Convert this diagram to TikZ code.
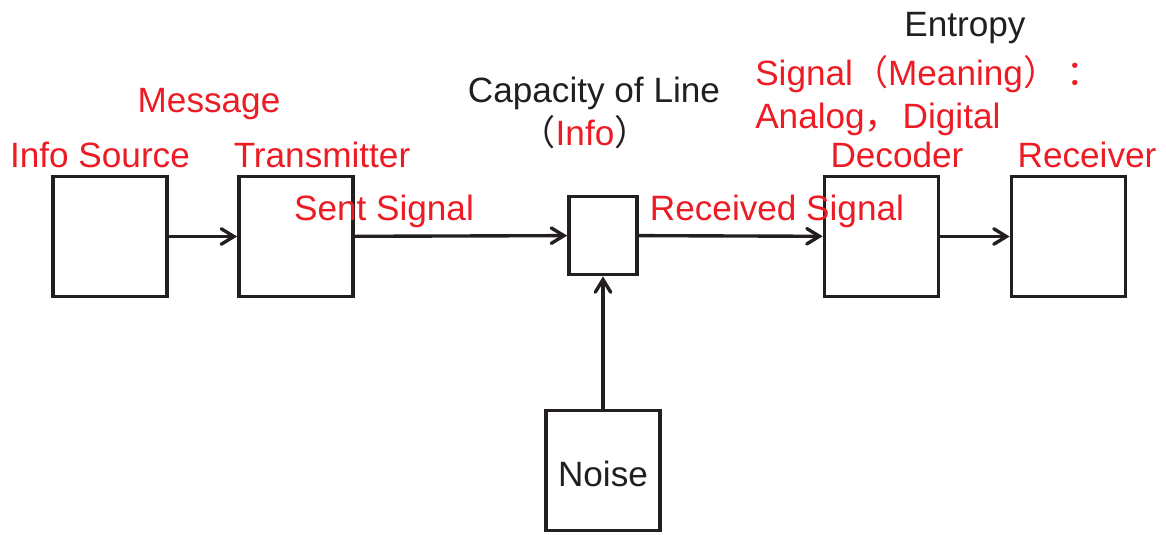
\documentclass[tikz,border=0pt]{standalone}
\usepackage{fontspec}
\setmainfont{Liberation Sans}
\newfontfamily\cjk{Noto Sans CJK SC}
\usetikzlibrary{arrows.meta,positioning}
\definecolor{msgred}{RGB}{237,28,36}
\definecolor{lineblack}{RGB}{35,31,32}

\begin{document}
\begin{tikzpicture}[x=0.025cm, y=-0.025cm,
        box/.style={rectangle, draw=lineblack, line width=2.6pt, minimum width=2.85cm, minimum height=3cm, inner sep=0pt, font=\fontsize{25}{30}\selectfont, text=lineblack},
        smallbox/.style={box, minimum width=1.7cm, minimum height=1.95cm},
        arrow/.style={-{Straight Barb[length=9pt,width=11pt,line cap=round]}, line width=2.4pt, color=lineblack},
        redtxt/.style={text=msgred, font=\fontsize{25}{30}\selectfont, inner sep=0pt, anchor=base},
        blktxt/.style={redtxt, text=lineblack}
    ]
        \useasboundingbox (0,0) rectangle (1166,534);
        % blocks
        \node[box] (src) at (110,236.5) {};
        \node[box] (tx) at (296,236.5) {};
        \node[smallbox] (chan) at (603,235.5) {};
        \node[box] (dec) at (881.5,236.5) {};
        \node[box] (rx) at (1068.5,236.5) {};
        \node[box] (noise) at (603,470.5) {\raisebox{-2pt}[\height][0pt]{Noise}};
        \draw[arrow] (src) -- (tx);
        \draw[arrow] (tx) -- (chan);
        \draw[arrow] (chan) -- (dec);
        \draw[arrow] (dec) -- (rx);
        \draw[arrow] (noise) -- (chan);
        % labels
        \node[redtxt] (lmsg) at (209,112) {Message};
        \node[redtxt] (lsrc) at (100,167) {Info Source};
        \node[redtxt] (ltx) at (322,167) {Transmitter};
        \node[redtxt] (lsent) at (384,220) {Sent Signal};
        \node[blktxt] (lcap) at (594,102) {Capacity of Line};
        \node[redtxt] (linfo) at (585,145) {\textcolor{lineblack}{\cjk （}Info\textcolor{lineblack}{\cjk ）}};
        \node[redtxt] (lrecv) at (777,220) {Received Signal};
        \node[blktxt] (lent) at (965,36) {Entropy};
        \node[redtxt, anchor=base west] (lsig) at (755,85) {Signal{\cjk （}Meaning{\cjk ）}\hspace{6pt}{\cjk ：}};
        \node[redtxt, anchor=base west] (lana) at (755,128) {Analog{\cjk ，}\hspace{2pt}Digital};
        \node[redtxt] (ldec) at (897,167) {Decoder};
        \node[redtxt] (lrx) at (1087,167) {Receiver};
    \end{tikzpicture}
\end{document}
